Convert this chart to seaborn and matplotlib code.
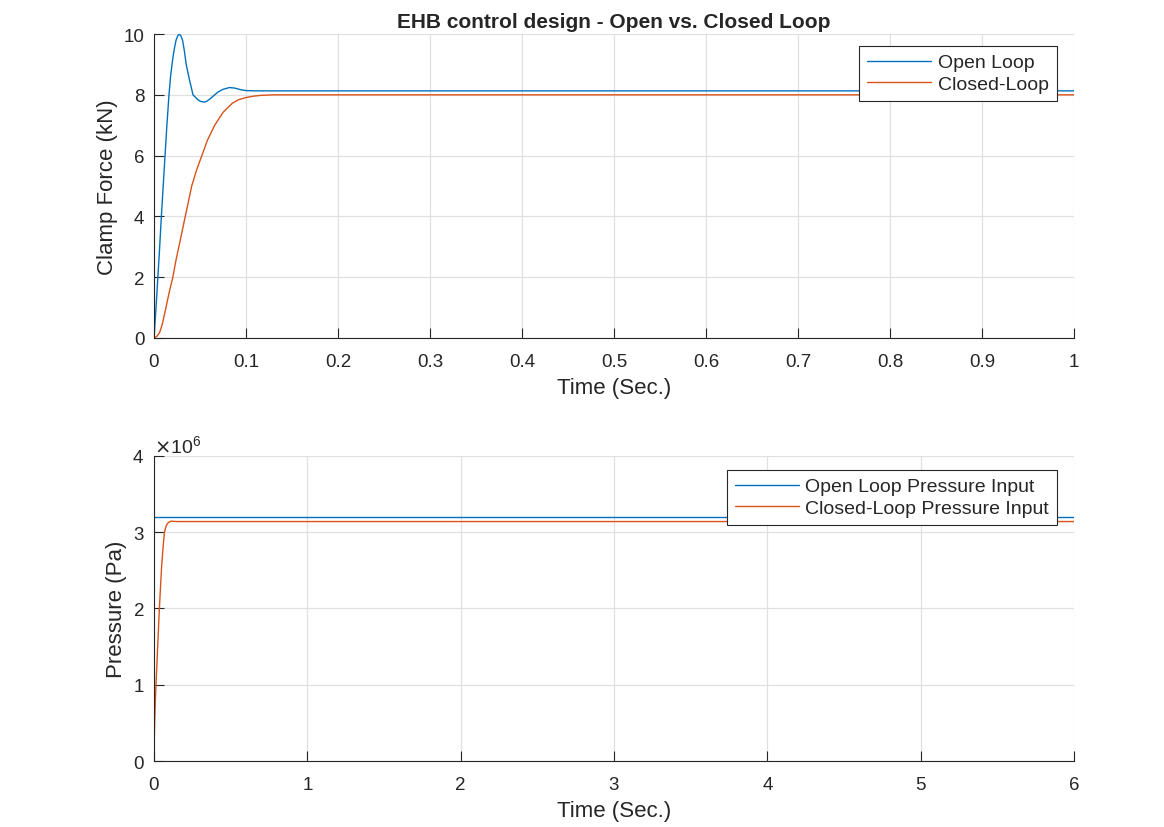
import numpy as np
import pandas as pd
import matplotlib
matplotlib.use("Agg")
import matplotlib.pyplot as plt
import seaborn as sns
from matplotlib.ticker import ScalarFormatter

# ---- data ----
t_open_force = [0, 0.002, 0.004, 0.006, 0.008, 0.010, 0.012, 0.014, 0.0163, 0.018, 0.020,
                0.022, 0.024, 0.026, 0.0272, 0.029, 0.031, 0.033, 0.035, 0.0385, 0.0424,
                0.045, 0.048, 0.051, 0.055, 0.058, 0.061, 0.066, 0.070, 0.075, 0.0821,
                0.088, 0.094, 0.100, 0.110, 0.130, 1.0]
f_open = [0, 0.9, 1.9, 2.9, 4.0, 5.0, 6.0, 7.0, 8.0, 8.6, 9.1,
          9.5, 9.8, 9.95, 10.0, 9.95, 9.8, 9.45, 9.0, 8.5, 8.0,
          7.92, 7.83, 7.78, 7.76, 7.8, 7.87, 8.0, 8.1, 8.18, 8.24,
          8.22, 8.17, 8.14, 8.13, 8.13, 8.13]

t_closed_force = [0, 0.003, 0.006, 0.009, 0.013, 0.0165, 0.0205, 0.0235, 0.027, 0.0305, 0.034,
                  0.0375, 0.041, 0.046, 0.052, 0.058, 0.066, 0.075, 0.085, 0.092, 0.100,
                  0.107, 0.115, 0.130, 1.0]
f_closed = [0, 0.05, 0.17, 0.45, 1.0, 1.5, 2.0, 2.5, 3.0, 3.5, 4.0,
            4.5, 5.0, 5.5, 6.0, 6.5, 7.0, 7.42, 7.72, 7.84, 7.91,
            7.95, 7.98, 8.0, 8.0]

t_open_p = [0.0, 6.0]
p_open = [3.2e6, 3.2e6]

t_closed_p = [0, 0.002, 0.005, 0.009, 0.013, 0.024, 0.035, 0.050, 0.060, 0.068,
              0.076, 0.083, 0.095, 0.111, 0.150, 0.250, 6.0]
p_closed = [0, 0.3e6, 0.55e6, 0.8e6, 1.0e6, 1.5e6, 2.0e6, 2.56e6, 2.82e6, 3.0e6,
            3.06e6, 3.1e6, 3.13e6, 3.145e6, 3.14e6, 3.14e6, 3.14e6]

top_xticks = [0, 0.1, 0.2, 0.3, 0.4, 0.5, 0.6, 0.7, 0.8, 0.9, 1]
top_xticklabels = ["0", "0.1", "0.2", "0.3", "0.4", "0.5", "0.6", "0.7", "0.8", "0.9", "1"]
top_yticks = [0, 2, 4, 6, 8, 10]
bot_xticks = [0, 1, 2, 3, 4, 5, 6]
bot_yticks = [0, 1e6, 2e6, 3e6, 4e6]

BLUE = "#0072BD"
ORANGE = "#D95319"
DARK = "#262626"

sns.set_theme(style="white")
plt.rcParams["font.family"] = ["Liberation Sans", "DejaVu Sans"]
plt.rcParams["axes.edgecolor"] = DARK
plt.rcParams["axes.linewidth"] = 0.8
plt.rcParams["xtick.color"] = DARK
plt.rcParams["ytick.color"] = DARK

fig = plt.figure(figsize=(11.64, 8.28), dpi=100)
ax1 = fig.add_axes([0.1323, 0.5906, 0.7904, 0.3671])
ax2 = fig.add_axes([0.1323, 0.0797, 0.7904, 0.3684])

sns.lineplot(x=t_open_force, y=f_open, ax=ax1, color=BLUE, lw=1.0, label="Open Loop", sort=False)
sns.lineplot(x=t_closed_force, y=f_closed, ax=ax1, color=ORANGE, lw=1.0, label="Closed-Loop", sort=False)

sns.lineplot(x=t_open_p, y=p_open, ax=ax2, color=BLUE, lw=1.0, label="Open Loop Pressure Input", sort=False)
sns.lineplot(x=t_closed_p, y=p_closed, ax=ax2, color=ORANGE, lw=1.0, label="Closed-Loop Pressure Input", sort=False)

ax1.set_xlim(0, 1)
ax1.set_ylim(0, 10)
ax1.set_xticks(top_xticks)
ax1.set_xticklabels(top_xticklabels)
ax1.set_yticks(top_yticks)
ax1.set_xlabel("Time (Sec.)", fontsize=16, color=DARK, labelpad=5)
ax1.set_ylabel("Clamp Force (kN)", fontsize=16, color=DARK)
ax1.set_title("EHB control design - Open vs. Closed Loop", fontsize=15, fontweight="bold",
              color=DARK, pad=5)

ax2.set_xlim(0, 6)
ax2.set_ylim(0, 4e6)
ax2.set_xticks(bot_xticks)
ax2.set_yticks(bot_yticks)
fmt = ScalarFormatter(useMathText=True)
fmt.set_powerlimits((0, 0))
ax2.yaxis.set_major_formatter(fmt)
ax2.yaxis.get_offset_text().set_fontsize(14)
ax2.yaxis.get_offset_text().set_color(DARK)
ax2.set_xlabel("Time (Sec.)", fontsize=16, color=DARK, labelpad=5)
ax2.set_ylabel("Pressure (Pa)", fontsize=16, color=DARK)

legend_anchor = {ax1: (1 - 17 / 920, 1 - 12 / 304), ax2: (1 - 17 / 920, 1 - 14 / 305)}
for ax in (ax1, ax2):
    ax.grid(True, color="#e0e0e0", lw=0.9)
    ax.set_axisbelow(True)
    sns.despine(ax=ax)
    ax.tick_params(direction="in", length=7, width=0.8, labelsize=13.5,
                   bottom=True, left=True)
    ax.tick_params(axis="x", pad=11)
    ax.tick_params(axis="y", pad=7)
    leg = ax.legend(loc="upper right", bbox_to_anchor=legend_anchor[ax], borderaxespad=0,
                    fontsize=14, frameon=True, fancybox=False,
                    edgecolor=DARK, framealpha=1, handlelength=3.3,
                    borderpad=0.4, labelspacing=0.22, handletextpad=0.35)
    leg.get_frame().set_linewidth(0.8)
    for line in leg.get_lines():
        line.set_linewidth(1.0)

fig.savefig("out.png", dpi=100)
